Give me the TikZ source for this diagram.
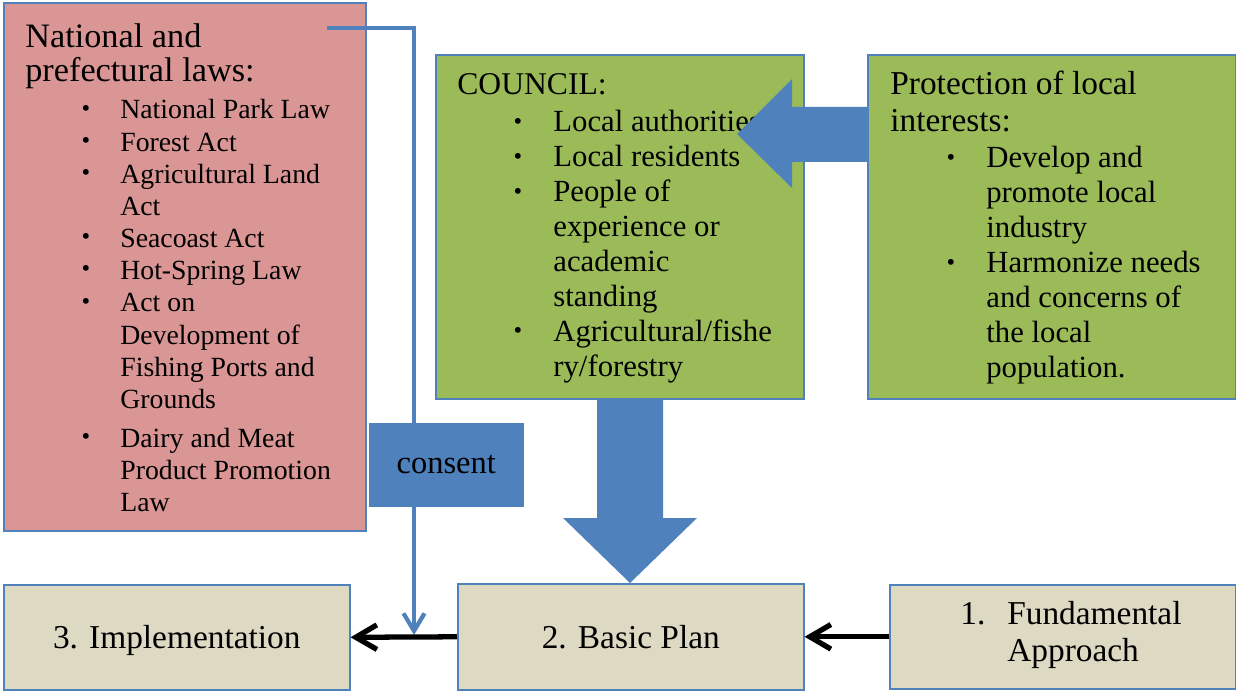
\documentclass[tikz,border=0pt]{standalone}
\usepackage{fontspec}
\setmainfont{Liberation Serif}
\usetikzlibrary{arrows.meta}

\definecolor{lawred}{HTML}{D99694}
\definecolor{leafgreen}{HTML}{9BBB59}
\definecolor{accblue}{HTML}{4F81BD}
\definecolor{planbeige}{HTML}{DDD9C3}

\newcommand{\pxl}{0.02cm}
\newcommand{\fsz}[2]{\fontsize{#1}{#2}\selectfont}
\newcommand{\stack}[1]{\begin{tabular}[t]{@{}l@{}}#1\end{tabular}}
\newcommand{\bstack}[1]{\begin{tabular}[t]{@{}c@{}}#1\end{tabular}}
\newcommand{\bul}{\raisebox{1.6pt}{\fontsize{14pt}{14pt}\selectfont\textbullet}}

\tikzset{
	box/.style={draw=accblue, line width=0.9pt, inner sep=0pt, anchor=north west},
	txt/.style={inner sep=0pt, anchor=base west},
	blockarrow/.style={fill=accblue, draw=none},
	flow/.style={line width=3pt, -{Straight Barb[length=12pt, width=14pt]}},
	consentline/.style={draw=accblue, line width=2.4pt, -{Straight Barb[length=10pt, width=12pt]}}
}

\begin{document}
\begin{tikzpicture}[x=\pxl, y=-\pxl]
		\useasboundingbox (0,0) rectangle (1236,692);
		
		%boxes
		\node[box, fill=lawred, minimum width=362*\pxl, minimum height=528*\pxl] (laws) at (3,2) {};
		\node[box, fill=leafgreen, minimum width=368*\pxl, minimum height=344*\pxl] (council) at (435,54) {};
		\node[box, fill=leafgreen, minimum width=368*\pxl, minimum height=344*\pxl] (protect) at (867,54) {};
		\node[box, fill=planbeige, minimum width=346*\pxl, minimum height=105*\pxl, text depth=0pt, font=\fsz{19pt}{21.6pt}] (impl) at (3,584) {3. Implementation};
		\node[box, fill=planbeige, minimum width=346*\pxl, minimum height=106*\pxl, text depth=0pt, font=\fsz{19pt}{21.6pt}] (plan) at (457,583) {2. Basic Plan};
		\node[box, fill=planbeige, minimum width=346*\pxl, minimum height=104*\pxl] (fund) at (889,584) {};
		
		%laws
		\node[txt] (lawshead) at (25,48) {\fsz{19.5pt}{18.3pt}\stack{National and\\prefectural laws:}};
		\node[txt, anchor=base] (lawsdots) at (86,119) {\fsz{15.8pt}{18.3pt}\bstack{\bul\\\bul\\\bul\\{}\\\bul\\\bul\\\bul\\{}\\{}\\{}\\[4pt]\bul}};
		\node[txt] (lawsitems) at (120,119) {\fsz{15.8pt}{18.3pt}\stack{National Park Law\\Forest Act\\Agricultural Land\\Act\\Seacoast Act\\Hot-Spring Law\\Act on\\Development of\\Fishing Ports and\\Grounds\\[4pt]Dairy and Meat\\Product Promotion\\Law}};
		
		%council
		\node[txt] (counhead) at (457,95) {\fsz{18pt}{21pt}COUNCIL:};
		\node[txt, anchor=base] (coundots) at (518,132) {\fsz{17.5pt}{19.9pt}\bstack{\bul\\\bul\\\bul\\{}\\{}\\{}\\\bul}};
		\node[txt] (counitems) at (553,132) {\fsz{17.5pt}{19.9pt}\stack{Local authorities\\Local residents\\People of\\experience or\\academic\\standing\\Agricultural/fishe\\ry/forestry}};
		
		%local interests
		\node[txt] (prothead) at (890,95) {\fsz{19pt}{21pt}\stack{Protection of local\\interests:}};
		\node[txt, anchor=base] (protdots) at (951,168) {\fsz{17.5pt}{19.9pt}\bstack{\bul\\{}\\{}\\\bul}};
		\node[txt] (protitems) at (986,168) {\fsz{17.5pt}{19.9pt}\stack{Develop and\\promote local\\industry\\Harmonize needs\\and concerns of\\the local\\population.}};
		
		%fundamental approach
		\node[txt] (fundtxt) at (960,624) {\fsz{19pt}{21.6pt}\begin{tabular}[t]{@{}p{26.7pt}@{}l@{}}1.&Fundamental\\&Approach\end{tabular}};
		
		%consent line
		\coordinate (lawsout) at (327,28);
		\coordinate (join) at (414,635);
		\draw[consentline] (lawsout) -| (join);
		\node[box, fill=accblue, minimum width=153*\pxl, minimum height=82*\pxl, text depth=0pt, font=\fsz{18.5pt}{22pt}] (consent) at (369,423) {consent};
		
		%block arrows
		\fill[blockarrow] (868,107) -- (792,107) -- (792,79) -- (737,134) -- (792,188) -- (792,162) -- (868,162) -- cycle;
		\fill[blockarrow] (597,398) -- (663,398) -- (663,518) -- (697,518) -- (630,583) -- (563,518) -- (597,518) -- cycle;
		
		%steps
		\draw[flow] (plan.west) -- (impl.east);
		\draw[flow] (fund.west) -- (plan.east);
		
\end{tikzpicture}
\end{document}
